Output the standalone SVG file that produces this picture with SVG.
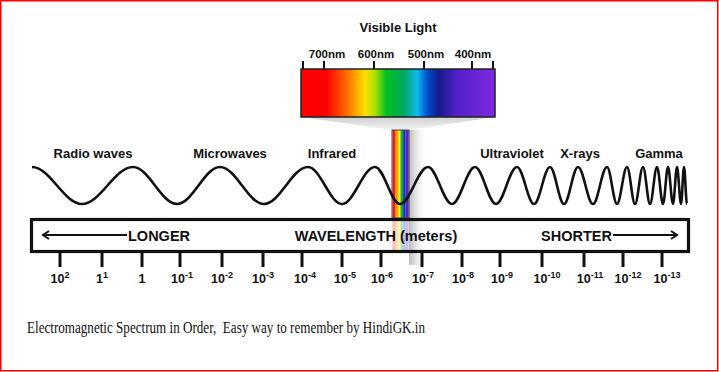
<svg xmlns="http://www.w3.org/2000/svg" width="719" height="372" viewBox="0 0 719 372">
<style>
.lbl{font-family:"Liberation Sans",Arial,sans-serif;font-weight:bold;fill:#111;}
.wl{font-size:13px;text-anchor:middle;}
.nm{font-size:11.5px;text-anchor:middle;}
.axis{font-size:14.5px;}
.num{font-size:12.5px;text-anchor:middle;}
.sup{font-size:9px;}
.tick{stroke:#111;stroke-width:3;}
.ntick{stroke:#111;stroke-width:2;}
.cap{font-family:"Liberation Serif","Times New Roman",serif;font-size:16px;fill:#111;}
</style>
<defs>
<linearGradient id="spec" x1="0" y1="0" x2="1" y2="0">
<stop offset="0" stop-color="#ff0000"/>
<stop offset="0.13" stop-color="#ff0000"/>
<stop offset="0.24" stop-color="#ff7000"/>
<stop offset="0.33" stop-color="#ffe000"/>
<stop offset="0.38" stop-color="#b0e000"/>
<stop offset="0.44" stop-color="#00c020"/>
<stop offset="0.53" stop-color="#00a860"/>
<stop offset="0.60" stop-color="#10b8f0"/>
<stop offset="0.65" stop-color="#0050d0"/>
<stop offset="0.71" stop-color="#141a88"/>
<stop offset="0.80" stop-color="#5020c8"/>
<stop offset="1" stop-color="#8028e0"/>
</linearGradient>
<linearGradient id="trap" x1="0" y1="0" x2="0" y2="1">
<stop offset="0" stop-color="#d0d0d0"/>
<stop offset="1" stop-color="#f4f4f4"/>
</linearGradient>
<linearGradient id="shad" x1="0" y1="0" x2="1" y2="0">
<stop offset="0" stop-color="#b8b8b8"/>
<stop offset="1" stop-color="#ffffff" stop-opacity="0"/>
</linearGradient>
<marker id="ah" markerWidth="10" markerHeight="10" refX="7" refY="5" orient="auto" markerUnits="userSpaceOnUse">
<path d="M1,1 L7,5 L1,9" fill="none" stroke="#111" stroke-width="2"/>
</marker>
</defs>
<rect width="719" height="372" fill="#fff"/>
<rect id="border" x="0.75" y="0.75" width="717" height="370" fill="none" stroke="#f00" stroke-width="1.5"/>

<g id="visible-light">
<text class="lbl wl" x="398" y="32">Visible Light</text>
<text class="lbl nm" x="327" y="58">700nm</text>
<text class="lbl nm" x="376" y="58">600nm</text>
<text class="lbl nm" x="426" y="58">500nm</text>
<text class="lbl nm" x="473" y="58">400nm</text>
<line class="ntick" x1="303" y1="61" x2="303" y2="69"/>
<line class="ntick" x1="324" y1="61" x2="324" y2="69"/>
<line class="ntick" x1="374" y1="61" x2="374" y2="69"/>
<line class="ntick" x1="424" y1="61" x2="424" y2="69"/>
<line class="ntick" x1="472" y1="61" x2="472" y2="69"/>
<line class="ntick" x1="493" y1="61" x2="493" y2="69"/>
<polygon points="301,117 495,117 409,130 392,130" fill="url(#trap)"/>
<rect x="301" y="69" width="194" height="48" fill="url(#spec)" stroke="#222" stroke-width="1.5"/>
<rect x="409" y="130" width="18" height="135" fill="url(#shad)"/>
<g id="beam">
<rect x="392.5" y="130" width="2.8" height="88" fill="#ff1010"/>
<rect x="395.3" y="130" width="2.6" height="88" fill="#ff9000"/>
<rect x="397.9" y="130" width="2.6" height="88" fill="#ffe800"/>
<rect x="400.5" y="130" width="2.6" height="88" fill="#10b020"/>
<rect x="403.1" y="130" width="2.6" height="88" fill="#1030e0"/>
<rect x="405.7" y="130" width="3" height="88" fill="#6020c0"/>
<rect x="392" y="130" width="17" height="88" fill="none" stroke="#444" stroke-width="1"/>
<g opacity="0.3">
<rect x="392.5" y="219" width="2.8" height="32" fill="#ff1010"/>
<rect x="395.3" y="219" width="2.6" height="32" fill="#ff9000"/>
<rect x="397.9" y="219" width="2.6" height="32" fill="#ffe800"/>
<rect x="400.5" y="219" width="2.6" height="32" fill="#10b020"/>
<rect x="403.1" y="219" width="2.6" height="32" fill="#1030e0"/>
<rect x="405.7" y="219" width="3" height="32" fill="#6020c0"/>
</g>
</g>
</g>

<g id="wave">
<path fill="none" stroke="#111" stroke-width="2.6" d="M32,167 C50,167 64,204 82,204 C100.4,204 114.6,167 133,167 C148.8,167 161.2,204 177,204 C192.5,204 204.5,167 220,167 C235.8,167 248.2,204 264,204 C279.8,204 292.2,167 308,167 C320.2,167 329.8,204 342,204 C353.9,204 363.1,167 375,167 C384,167 391,204 400,204 C410,204 418,167 428,167 C436.6,167 443.4,204 452,204 C460.3,204 466.7,167 475,167 C482.6,167 488.4,204 496,204 C503.6,204 509.4,167 517,167 C523.1,167 527.9,204 534,204 C539.8,204 544.2,167 550,167 C555,167 559,204 564,204 C569,204 573,167 578,167 C583.4,167 587.6,204 593,204 C598,204 602,167 607,167 C610.6,167 613.4,204 617,204 C620.6,204 623.4,167 627,167 C629.9,167 632.1,204 635,204 C637.9,204 640.1,167 643,167 C645.5,167 647.5,204 650,204 C652.5,204 654.5,167 657,167 C659.2,167 660.8,204 663,204 C664.8,204 666.2,167 668,167 C669.8,167 671.2,204 673,204 C674.4,204 675.6,167 677,167 C678.4,167 679.6,204 681,204 C682.1,204 682.9,167 684,167 C685.1,167 685.9,204 687,204"/>
</g>

<g id="wave-labels">
<text class="lbl wl" x="93" y="158">Radio waves</text>
<text class="lbl wl" x="230" y="158">Microwaves</text>
<text class="lbl wl" x="332" y="158">Infrared</text>
<text class="lbl wl" x="512" y="158">Ultraviolet</text>
<text class="lbl wl" x="580" y="158">X-rays</text>
<text class="lbl wl" x="659" y="158">Gamma</text>
</g>

<g id="scale-box">
<rect x="31.5" y="219.5" width="657" height="32" fill="none" stroke="#111" stroke-width="3.2"/>
<text class="lbl axis" x="128" y="241">LONGER</text>
<text class="lbl axis" x="376" y="241" text-anchor="middle">WAVELENGTH (meters)</text>
<text class="lbl axis" x="612" y="241" text-anchor="end">SHORTER</text>
</g>

<g id="connectors">
<line x1="127" y1="235" x2="43" y2="235" stroke="#111" stroke-width="1.8" marker-end="url(#ah)"/>
<line x1="613" y1="235" x2="677" y2="235" stroke="#111" stroke-width="1.8" marker-end="url(#ah)"/>
</g>

<g id="ticks">
<line class="tick" x1="60" y1="252" x2="60" y2="267"/>
<line class="tick" x1="102" y1="252" x2="102" y2="267"/>
<line class="tick" x1="142" y1="252" x2="142" y2="267"/>
<line class="tick" x1="180" y1="252" x2="180" y2="267"/>
<line class="tick" x1="222" y1="252" x2="222" y2="267"/>
<line class="tick" x1="263" y1="252" x2="263" y2="267"/>
<line class="tick" x1="302" y1="252" x2="302" y2="267"/>
<line class="tick" x1="342" y1="252" x2="342" y2="267"/>
<line class="tick" x1="381" y1="252" x2="381" y2="267"/>
<line class="tick" x1="422" y1="252" x2="422" y2="267"/>
<line class="tick" x1="462" y1="252" x2="462" y2="267"/>
<line class="tick" x1="500" y1="252" x2="500" y2="267"/>
<line class="tick" x1="542" y1="252" x2="542" y2="267"/>
<line class="tick" x1="584" y1="252" x2="584" y2="267"/>
<line class="tick" x1="623" y1="252" x2="623" y2="267"/>
<line class="tick" x1="662" y1="252" x2="662" y2="267"/>
</g>

<g id="scale-labels">
<text class="lbl num" x="60" y="283">10<tspan class="sup" dy="-5">2</tspan></text>
<text class="lbl num" x="102" y="283">1<tspan class="sup" dy="-5">1</tspan></text>
<text class="lbl num" x="142" y="283">1</text>
<text class="lbl num" x="182" y="283">10<tspan class="sup" dy="-5">-1</tspan></text>
<text class="lbl num" x="222" y="283">10<tspan class="sup" dy="-5">-2</tspan></text>
<text class="lbl num" x="263" y="283">10<tspan class="sup" dy="-5">-3</tspan></text>
<text class="lbl num" x="305" y="283">10<tspan class="sup" dy="-5">-4</tspan></text>
<text class="lbl num" x="345" y="283">10<tspan class="sup" dy="-5">-5</tspan></text>
<text class="lbl num" x="382" y="283">10<tspan class="sup" dy="-5">-6</tspan></text>
<text class="lbl num" x="423" y="283">10<tspan class="sup" dy="-5">-7</tspan></text>
<text class="lbl num" x="463" y="283">10<tspan class="sup" dy="-5">-8</tspan></text>
<text class="lbl num" x="502" y="283">10<tspan class="sup" dy="-5">-9</tspan></text>
<text class="lbl num" x="547" y="283">10<tspan class="sup" dy="-5">-10</tspan></text>
<text class="lbl num" x="590" y="283">10<tspan class="sup" dy="-5">-11</tspan></text>
<text class="lbl num" x="628" y="283">10<tspan class="sup" dy="-5">-12</tspan></text>
<text class="lbl num" x="667" y="283">10<tspan class="sup" dy="-5">-13</tspan></text>
</g>

<g id="caption">
<text class="cap" x="27" y="333" textLength="398" lengthAdjust="spacingAndGlyphs" xml:space="preserve">Electromagnetic Spectrum in Order,  Easy way to remember by HindiGK.in</text>
</g>
</svg>
